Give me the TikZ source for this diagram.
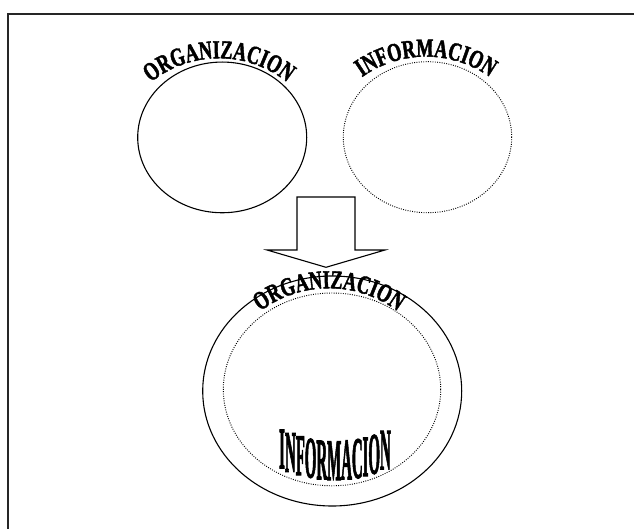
\documentclass[tikz,border=0pt]{standalone}
\usepackage{fontspec}
\usepackage{graphicx}
\usetikzlibrary{shapes.geometric,decorations.text}
\newfontfamily\artfont{Liberation Serif}[UprightFont={* Bold}, FakeStretch=0.7, FakeBold=1.6]
\newfontfamily\artfontb{Liberation Serif}[UprightFont={* Bold}, FakeStretch=0.62, FakeBold=2]
\newcommand\wletter[2]{\raisebox{-#1pt}{\scalebox{1}[2.45]{#2}}}
\tikzset{
  solidring/.style={ellipse, draw, line width=1.1pt, inner sep=0pt, outer sep=0pt},
  dotring/.style={ellipse, draw, line width=0.95pt, dash pattern=on 0.9pt off 1.4pt, inner sep=0pt, outer sep=0pt},
  framebox/.style={draw=black!85, line width=1.4pt},
  blockarrow/.style={draw, line width=1.1pt, line join=miter, fill=white},
  arctext/.style={decorate, decoration={text along path, text align=center, text={|\artfont\fontsize{26}{30}\selectfont|#1}}}
}
\begin{document}
\begin{tikzpicture}[x=1pt,y=1pt]
\useasboundingbox (0,0) rectangle (634,-529);
\clip (0,0) rectangle (634,-529);
\draw[framebox] (8,-14) rectangle (670,-570);
% top circles
\node[solidring, minimum width=169pt, minimum height=150.7pt] (org) at (222.2,-137.4) {};
\node[dotring, minimum width=168.4pt, minimum height=151pt] (inf) at (427.5,-137.2) {};
% arched titles
\path[arctext=ORGANIZACION] (219,-166.8) ++(131:108.5) arc[start angle=131, end angle=49, radius=108.5];
\path[arctext=INFORMACION] (426,-166.7) ++(129:110) arc[start angle=129, end angle=51, radius=110];
% block arrow
\draw[blockarrow] (297,-197) -- (355,-197) -- (355,-250) -- (385,-250) -- (326,-267.3) -- (267,-250) -- (297,-250) -- cycle;
% combined circle
\node[solidring, minimum width=259pt, minimum height=230pt] (big) at (332.2,-391) {};
\node[dotring, minimum width=217.4pt, minimum height=192.8pt] (inner) at (332,-389.4) {};
\path[arctext=ORGANIZACION] (329,-402.3) ++(129:114) arc[start angle=129, end angle=51, radius=114];
\node[anchor=base, inner sep=0pt] (infob) at (335,-467) {\artfontb\fontsize{24}{24}\selectfont
  \wletter{1.3}{I}\wletter{4.7}{N}\wletter{8}{F}\wletter{10.5}{O}\wletter{12.3}{R}\wletter{13}{M}\wletter{12.4}{A}\wletter{10.9}{C}\wletter{9.1}{I}\wletter{6.6}{O}\wletter{2.4}{N}};
\end{tikzpicture}
\end{document}
